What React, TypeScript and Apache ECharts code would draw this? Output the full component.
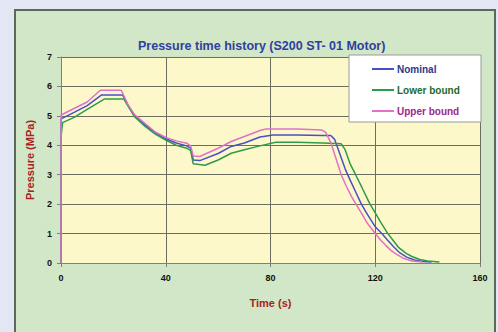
import React, { useEffect, useRef } from "react";
import * as echarts from "echarts";

const xTicks = [0, 40, 80, 120, 160];
const yTicks = [0, 1, 2, 3, 4, 5, 6, 7];

const nominalT = [0, 0.05, 5, 10, 15.5, 23.5, 26, 28, 32, 36, 40, 44, 48, 49.5, 50.5, 53, 60, 65, 70, 76, 81, 90, 100, 103, 104.5, 106.5, 108.5, 110.5, 112.5, 114.7, 117, 120, 122.5, 125, 127, 129.3, 132, 135, 138, 141.5];
const nominalP = [0, 4.9, 5.12, 5.35, 5.71, 5.71, 5.3, 5.0, 4.7, 4.42, 4.22, 4.08, 3.98, 3.9, 3.5, 3.48, 3.72, 3.96, 4.08, 4.28, 4.35, 4.35, 4.33, 4.33, 4.2, 3.7, 3.2, 2.8, 2.42, 2.0, 1.65, 1.23, 1.0, 0.75, 0.55, 0.35, 0.2, 0.1, 0.05, 0.03];

const lowerT = [0, 0.05, 0.6, 5, 10, 16.5, 24, 26.5, 28, 32, 36, 40, 44, 48, 49.5, 50.5, 55, 60, 65, 70, 76, 82, 90, 100, 107, 108.5, 110.5, 112.5, 115, 118, 120, 122, 124.8, 127, 129, 131.8, 134, 137, 140, 144.5];
const lowerP = [0, 4.3, 4.77, 4.95, 5.22, 5.57, 5.57, 5.2, 4.98, 4.65, 4.38, 4.18, 4.0, 3.9, 3.82, 3.37, 3.32, 3.5, 3.73, 3.85, 3.98, 4.1, 4.1, 4.08, 4.05, 3.85, 3.35, 3.0, 2.55, 2.0, 1.7, 1.4, 1.0, 0.75, 0.52, 0.33, 0.22, 0.12, 0.07, 0.03];

const upperT = [0, 0.05, 5, 10, 15, 23, 25.5, 28, 32, 36, 40, 44, 48, 49.5, 50.5, 53, 60, 65, 70, 76, 78, 90, 99.5, 101, 103, 105, 107, 109, 111, 113, 115, 117, 120, 122, 124, 126, 128, 131, 134, 138];
const upperP = [0, 5.03, 5.25, 5.47, 5.87, 5.87, 5.4, 5.05, 4.75, 4.45, 4.27, 4.15, 4.07, 3.98, 3.64, 3.62, 3.9, 4.13, 4.3, 4.5, 4.55, 4.55, 4.52, 4.45, 4.1, 3.55, 3.0, 2.6, 2.25, 1.95, 1.65, 1.35, 1.0, 0.78, 0.6, 0.43, 0.3, 0.15, 0.07, 0.03];

const seriesNames = ["Nominal", "Lower bound", "Upper bound"];
const seriesColors = ["#4a4ec8", "#2e9a4c", "#e070c8"];
const legendTextColors = ["#2a3a8c", "#1e6a30", "#a0268c"];

const zip = (t: number[], p: number[]) => t.map((v, i) => [v, p[i]]);

export default function App() {
  const ref = useRef<HTMLDivElement>(null);
  useEffect(() => {
    document.body.style.margin = "0";
    const chart = echarts.init(ref.current!, null, { renderer: "svg" });
    const datas = [zip(nominalT, nominalP), zip(lowerT, lowerP), zip(upperT, upperP)];
    chart.setOption({
      animation: false,
      backgroundColor: "#e2e7f3",
      title: {
        text: "Pressure time history (S200 ST- 01 Motor)",
        left: 133,
        top: 34,
        textStyle: { color: "#3040a0", fontSize: 12.5, fontWeight: "bold", fontFamily: "Liberation Sans" },
      },
      graphic: [
        { type: "rect", shape: { x: 15, y: 10, width: 480, height: 330 }, style: { fill: "#d1e7c8", stroke: "#5a6a5a", lineWidth: 2 }, z: -10 },
        { type: "rect", shape: { x: 349, y: 55, width: 132, height: 67 }, style: { fill: "#ffffff", stroke: "#9a9a9a", lineWidth: 1 }, z: 5 },
      ],
      legend: {
        orient: "vertical",
        left: 367,
        top: 59,
        itemGap: 11,
        itemWidth: 22,
        itemHeight: 2,
        icon: "rect",
        z: 10,
        data: seriesNames.map((n, i) => ({
          name: n,
          textStyle: { color: legendTextColors[i], fontSize: 10, fontWeight: "bold", fontFamily: "Liberation Sans", padding: [0, 0, 0, -2] },
        })),
      },
      grid: {
        left: 61,
        right: 18,
        top: 57,
        bottom: 69,
        show: true,
        backgroundColor: "#fdf8c9",
        borderWidth: 0,
      },
      xAxis: {
        type: "value",
        min: xTicks[0],
        max: xTicks[xTicks.length - 1],
        interval: 40,
        name: "Time (s)",
        nameLocation: "middle",
        nameGap: 34,
        nameTextStyle: { color: "#a82222", fontSize: 11, fontWeight: "bold", fontFamily: "Liberation Sans" },
        axisLine: { show: true, lineStyle: { color: "#808080", width: 1 } },
        axisTick: { show: true, length: 4, lineStyle: { color: "#808080" } },
        axisLabel: { color: "#111", fontSize: 9, fontWeight: "bold", fontFamily: "Liberation Sans", margin: 10 },
        splitLine: { show: true, lineStyle: { color: "#6e6e60", width: 1 } },
      },
      yAxis: {
        type: "value",
        min: yTicks[0],
        max: yTicks[yTicks.length - 1],
        interval: 1,
        name: "Pressure (MPa)",
        nameLocation: "middle",
        nameGap: 26,
        nameTextStyle: { color: "#a82222", fontSize: 11, fontWeight: "bold", fontFamily: "Liberation Sans" },
        axisLine: { show: true, lineStyle: { color: "#808080", width: 1 } },
        axisTick: { show: true, length: 4, lineStyle: { color: "#808080" } },
        axisLabel: { color: "#111", fontSize: 9, fontWeight: "bold", fontFamily: "Liberation Sans", margin: 9 },
        splitLine: { show: true, lineStyle: { color: "#6e6e60", width: 1 } },
      },
      series: seriesNames.map((n, i) => ({
        name: n,
        type: "line",
        data: datas[i],
        showSymbol: false,
        symbol: "none",
        lineStyle: { color: seriesColors[i], width: 1.5 },
        itemStyle: { color: seriesColors[i] },
      })),
    });
    return () => chart.dispose();
  }, []);
  return <div ref={ref} style={{ width: 498, height: 332, position: "absolute", left: 0, top: 0 }} />;
}
